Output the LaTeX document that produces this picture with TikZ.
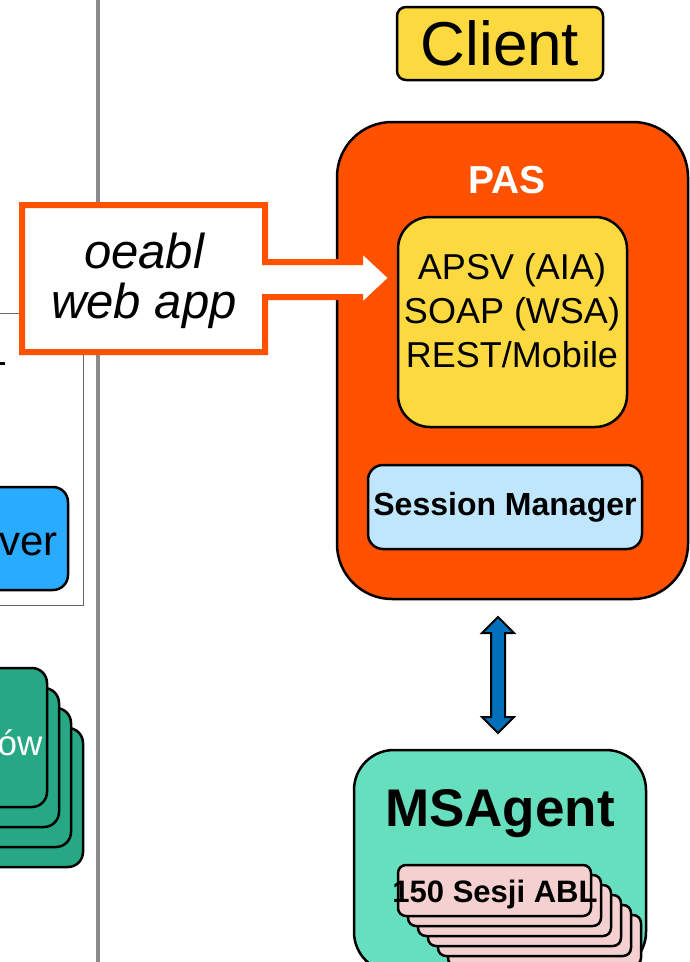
\documentclass[tikz,border=0pt]{standalone}
\usepackage{fontspec}
\setmainfont{Liberation Sans}
\usetikzlibrary{shapes.arrows}
\definecolor{pasorange}{RGB}{255,81,0}
\definecolor{boxyellow}{RGB}{252,217,63}
\definecolor{smblue}{RGB}{191,230,252}
\definecolor{srvblue}{RGB}{41,171,255}
\definecolor{cardgreen}{RGB}{38,168,132}
\definecolor{agentgreen}{RGB}{102,223,191}
\definecolor{sesspink}{RGB}{245,208,208}
\definecolor{linkblue}{RGB}{0,112,184}
\definecolor{splitgray}{RGB}{138,138,138}

\begin{document}
\begin{tikzpicture}[x=1pt,y=-1pt,
    box/.style={draw=black,line width=2.5pt,inner sep=0pt},
    sesscard/.style={box,fill=sesspink,rounded corners=8pt,minimum width=193pt,minimum height=51pt}]

        \useasboundingbox (0,0) rectangle (690,962);

        \draw[splitgray,line width=4pt] (98,0) -- (98,962);
        \draw[black!60,line width=1pt] (-5,313) rectangle (83,605);
        \draw[line width=3.5pt] (0,363.5) -- (5,363.5);

        \node[box,fill=srvblue,rounded corners=15pt,minimum width=100pt,minimum height=103pt] (Server) at (18,538.5) {};
        \node[anchor=base east,font=\fontsize{42}{42}\selectfont] (ServerText) at (61,555) {ver};

        \foreach \k in {3,2,1,0}
          \draw[box,fill=cardgreen,rounded corners=15pt] ({-60+12*\k},{668+20*\k}) rectangle ++(107,139);
        \node[anchor=base east,text=white,font=\fontsize{35}{35}\selectfont] (Cards) at (46,755) {ów};

        \node[box,fill=boxyellow,rounded corners=9pt,minimum width=206pt,minimum height=73pt,
              font=\fontsize{62}{62}\selectfont] (Client) at (500,43.5) {Client};

        \node[box,fill=pasorange,rounded corners=55pt,minimum width=351pt,minimum height=477pt] (PAS) at (512.5,360.5) {};
        \node[text=white,font=\bfseries\fontsize{39}{39}\selectfont] (PASTitle) at (507,180) {PAS};

        \node[box,fill=boxyellow,rounded corners=32pt,minimum width=229pt,minimum height=210pt] (Proto) at (512.5,322) {};
        \node[align=center,font=\fontsize{36}{44}\selectfont] (ProtoText) at (512,311) {APSV (AIA)\\SOAP (WSA)\\REST/Mobile};

        \node[box,fill=smblue,rounded corners=15pt,minimum width=274pt,minimum height=84pt,
              font=\bfseries\fontsize{32}{32}\selectfont] (SessMgr) at (505,507) {Session Manager};

        \node[double arrow,draw=black,line width=2pt,fill=linkblue,shape border rotate=90,inner sep=6pt,
              double arrow head extend=9pt,minimum height=116pt] (Link) at (498,675) {};

        \node[box,fill=agentgreen,rounded corners=40pt,minimum width=292pt,minimum height=222pt] (MSAgent) at (500,861) {};
        \node[font=\bfseries\fontsize{53}{53}\selectfont] (MSAgentTitle) at (500,814) {MSAgent};

        \foreach \k in {5,4,...,0}
          \node[sesscard] (Sess\k) at ({494.5+10*\k},{890.5+10*\k}) {};
        \node[font=\bfseries\fontsize{31}{31}\selectfont] (SessText) at (495,894) {150 Sesji ABL};

        \draw[draw=pasorange,line width=6pt,fill=white]
          (22,205) -- (265,205) -- (265,262) -- (360,262) -- (360,248) -- (392,278)
          -- (360,308) -- (360,297) -- (265,297) -- (265,352) -- (22,352) -- cycle;
        \node[align=center,font=\itshape\fontsize{49}{50}\selectfont] (WebApp) at (144,281) {oeabl\\web app};
      \end{tikzpicture}
\end{document}
